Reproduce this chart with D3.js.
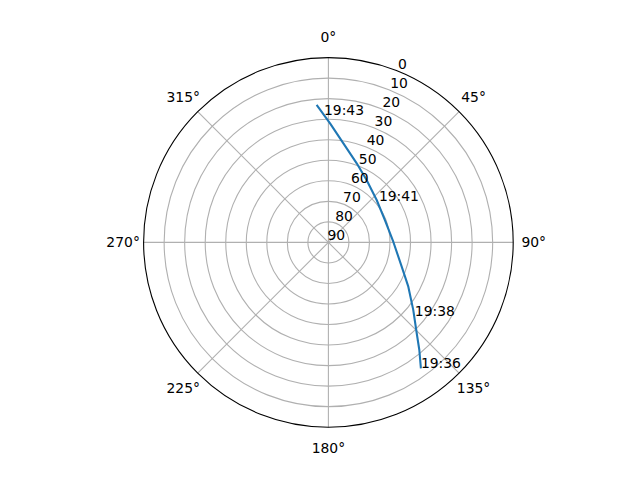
<!DOCTYPE html>
<html><head><meta charset="utf-8">
<script src="https://cdn.jsdelivr.net/npm/d3@7"></script>
<style>html,body{margin:0;padding:0;background:#fff;}svg{display:block;}</style>
</head><body>
<svg id="c" width="640" height="480"></svg>
<script>
// Track (time order 19:36 -> 19:43), azimuth in degrees, elevation in degrees
const trackAz = [143.7, 139.8, 135.8, 128.5, 119.0, 108.3, 89.4, 68.4, 48.7, 31.5, 19.7, 8.6, 0.8, 355.1];
const trackEl = [13.9, 21.4, 28.3, 37.2, 45.5, 52.4, 58.4, 60.4, 58.7, 54.4, 49.1, 41.2, 32.0, 22.8];
// Time annotations
const labelText = ["19:36", "19:38", "19:41", "19:43"];
const labelAz = [143.7, 130.4, 50.7, 358.0];
const labelEl = [13.9, 34.7, 58.2, 27.9];
// Axis ticks
const rTicks = [0, 10, 20, 30, 40, 50, 60, 70, 80, 90];
const thetaTicks = [0, 45, 90, 135, 180, 225, 270, 315];

const W = 640, H = 480;
const cx = 328.4, cy = 242.4, R = 184.8;
const font = "DejaVu Sans, sans-serif";
const svg = d3.select("#c");
const g = svg.append("g").attr("transform", `translate(${cx},${cy})`);

const r = d3.scaleLinear().domain([0, 90]).range([R, 0]);
const ang = d3.scaleLinear().domain([0, 360]).range([0, 2 * Math.PI]);
const px = (a, e) => r(e) * Math.sin(ang(a));
const py = (a, e) => -r(e) * Math.cos(ang(a));

// grid circles
g.selectAll("circle.grid").data(rTicks.filter(t => t > 0 && t < 90)).enter()
  .append("circle").attr("class", "grid")
  .attr("r", d => r(d)).attr("fill", "none")
  .attr("stroke", "#b0b0b0").attr("stroke-width", 1.1);
// grid spokes
g.selectAll("line.spoke").data(thetaTicks).enter()
  .append("line").attr("class", "spoke")
  .attr("x1", 0).attr("y1", 0)
  .attr("x2", d => px(d, 0)).attr("y2", d => py(d, 0))
  .attr("stroke", "#b0b0b0").attr("stroke-width", 1.1);

// track line
const line = d3.lineRadial()
  .angle((d, i) => ang(trackAz[i]))
  .radius((d, i) => r(trackEl[i]));
g.append("path").datum(trackAz)
  .attr("d", line)
  .attr("fill", "none").attr("stroke", "#1f77b4").attr("stroke-width", 2.08)
  .attr("stroke-linejoin", "round").attr("stroke-linecap", "butt");

// outer spine
g.append("circle").attr("r", R).attr("fill", "none")
  .attr("stroke", "#000").attr("stroke-width", 1.1);

// radial labels at 22.5 deg
g.selectAll("text.rl").data(rTicks).enter()
  .append("text").attr("class", "rl")
  .attr("x", d => px(22.5, d) - 1)
  .attr("y", d => py(22.5, d) - 2.6)
  .attr("font-family", font).attr("font-size", "13.9px")
  .attr("text-anchor", "start").attr("fill", "#000")
  .text(d => d);

// angular labels
const rr = R + 20.5;
g.selectAll("text.tl").data(thetaTicks).enter()
  .append("text").attr("class", "tl")
  .attr("x", d => rr * Math.sin(ang(d)))
  .attr("y", d => -rr * Math.cos(ang(d)) + 5)
  .attr("font-family", font).attr("font-size", "13.9px")
  .attr("text-anchor", "middle").attr("fill", "#000")
  .text(d => d + "°");

// time annotations
g.selectAll("text.ann").data(labelText).enter()
  .append("text").attr("class", "ann")
  .attr("x", (d, i) => px(labelAz[i], labelEl[i]))
  .attr("y", (d, i) => py(labelAz[i], labelEl[i]))
  .attr("font-family", font).attr("font-size", "13.9px")
  .attr("text-anchor", "start").attr("fill", "#000")
  .text(d => d);
</script>
</body></html>
